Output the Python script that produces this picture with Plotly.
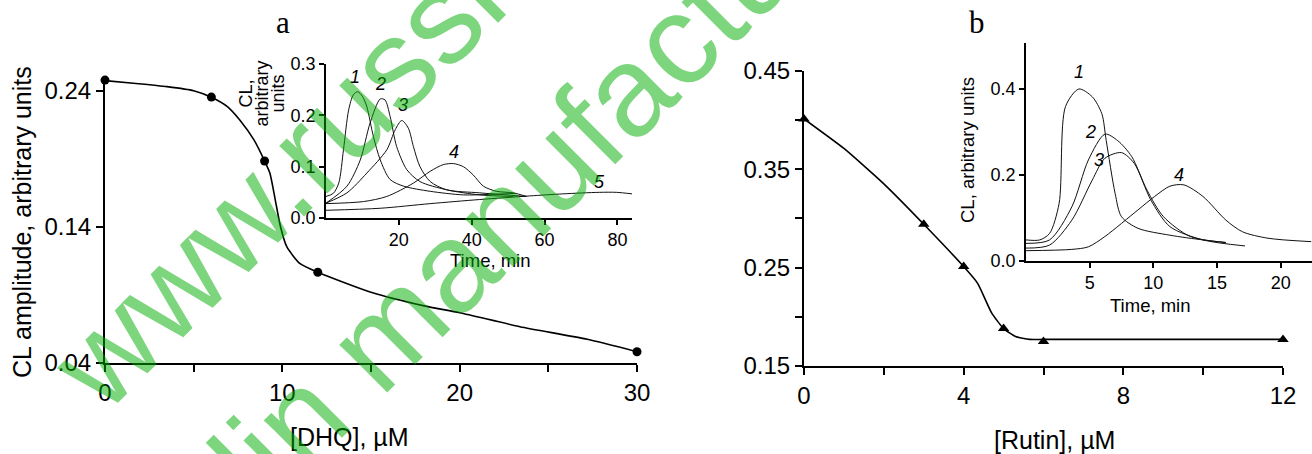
import plotly.graph_objects as go

W, H = 1312, 454

# ---------------- data: panel a (DHQ) ----------------
dhq_conc = [0, 6, 9, 12, 30]
dhq_amp = [0.248, 0.2355, 0.1885, 0.1067, 0.0483]
dhq_curve_x = [0, 1.6, 3.5, 5.0, 6.0, 6.9, 7.6, 8.4, 9.0, 9.3, 9.6, 9.9, 10.25, 11.0, 12.0, 15.0, 18.0, 20.0, 23.4, 27.2, 30.0]
dhq_curve_y = [0.2476, 0.2457, 0.2432, 0.2402, 0.2354, 0.2285, 0.2187, 0.204, 0.1885, 0.1795, 0.160, 0.140, 0.1255, 0.113, 0.1067, 0.092, 0.082, 0.077, 0.0667, 0.0574, 0.0483]

# inset a kinetics (time, min ; CL, arbitrary units)
ka1_t = [0, 2, 3.5, 4.8, 6.2, 7.5, 8.7, 10, 11.2, 13, 14.9, 17.6, 21.3, 28.6, 37.7, 45, 52]
ka1_v = [0.042, 0.048, 0.068, 0.133, 0.21, 0.24, 0.246, 0.237, 0.217, 0.159, 0.113, 0.075, 0.062, 0.052, 0.045, 0.046, 0.048]
ka2_t = [0, 5.75, 9.4, 12.1, 14.9, 16.2, 17.6, 19.4, 22.2, 25.8, 33.1, 42.2, 51.4]
ka2_v = [0.029, 0.062, 0.113, 0.185, 0.232, 0.23, 0.198, 0.139, 0.094, 0.071, 0.055, 0.045, 0.042]
ka3_t = [0, 5.75, 11.2, 16.7, 19.0, 20.8, 22.6, 24.0, 25.8, 28.6, 33.1, 42.2, 55]
ka3_v = [0.029, 0.049, 0.0875, 0.133, 0.172, 0.19, 0.175, 0.139, 0.10, 0.071, 0.055, 0.049, 0.042]
ka4_t = [0, 10.3, 16.7, 24, 28.6, 32.2, 35, 37.7, 40.4, 43.2, 46.8, 51.4, 55]
ka4_v = [0.028, 0.032, 0.042, 0.068, 0.091, 0.104, 0.106, 0.10, 0.084, 0.062, 0.052, 0.049, 0.042]
ka5_t = [0, 14.9, 28.6, 42.2, 55.9, 65, 75, 79.7, 84]
ka5_v = [0.015, 0.019, 0.028, 0.036, 0.043, 0.047, 0.05, 0.05, 0.047]

# ---------------- data: panel b (Rutin) ----------------
rutin_conc = [0, 3, 4, 5, 6, 12]
rutin_amp = [0.401, 0.294, 0.251, 0.188, 0.175, 0.177]
rutin_curve_x = [0, 1, 2, 3, 4, 4.35, 4.7, 5.0, 5.3, 5.65, 6, 12]
rutin_curve_y = [0.401, 0.371, 0.335, 0.294, 0.251, 0.234, 0.204, 0.188, 0.180, 0.177, 0.177, 0.177]

# inset b kinetics
kb1_t = [0, 1.08, 1.85, 2.6, 3.1, 4.15, 5.2, 5.95, 6.3, 7.0, 7.5, 8.8, 11.3, 13.9, 15.7]
kb1_v = [0.049, 0.049, 0.064, 0.134, 0.359, 0.40, 0.382, 0.343, 0.28, 0.157, 0.103, 0.076, 0.06, 0.049, 0.043]
kb2_t = [0, 1.85, 3.6, 4.9, 6.2, 7.2, 8.3, 9.5, 10.8, 12.9, 15.7]
kb2_v = [0.041, 0.049, 0.126, 0.235, 0.295, 0.28, 0.243, 0.165, 0.103, 0.057, 0.043]
kb3_t = [0, 1.85, 3.6, 5.2, 6.2, 7.5, 8.5, 9.8, 11.3, 13.9, 17.2]
kb3_v = [0.03, 0.037, 0.095, 0.188, 0.239, 0.252, 0.227, 0.142, 0.08, 0.049, 0.035]
kb4_t = [0, 3.6, 4.9, 6.2, 8.8, 10.1, 11.3, 12.4, 13.9, 15.7, 17.0, 19.0, 22.4]
kb4_v = [0.024, 0.027, 0.033, 0.057, 0.119, 0.15, 0.174, 0.177, 0.15, 0.095, 0.068, 0.053, 0.045]

# ---------------- tick labels ----------------
a_xticks = [0, 5, 10, 15, 20, 25, 30]
a_xtext = ["0", "", "10", "", "20", "", "30"]
a_yticks = [0.04, 0.14, 0.24]
a_ytext = ["0.04", "0.14", "0.24"]
ia_xticks = [20, 40, 60, 80]
ia_xtext = ["20", "40", "60", "80"]
ia_yticks = [0, 0.1, 0.2, 0.3]
ia_ytext = ["0.0", "0.1", "0.2", "0.3"]
b_xticks = [0, 2, 4, 6, 8, 10, 12]
b_xtext = ["0", "", "4", "", "8", "", "12"]
b_yticks = [0.15, 0.20, 0.25, 0.30, 0.35, 0.40, 0.45]
b_ytext = ["0.15", "", "0.25", "", "0.35", "", "0.45"]
ib_xticks = [5, 10, 15, 20]
ib_xtext = ["5", "10", "15", "20"]
ib_yticks = [0, 0.2, 0.4]
ib_ytext = ["0.0", "0.2", "0.4"]

SANS = "Arial, 'Liberation Sans', Helvetica, sans-serif"
SERIF = "'Times New Roman', 'Liberation Serif', serif"


def px(x):
    return x / W


def py(y):
    return 1 - y / H


fig = go.Figure()

# panel a main
fig.add_trace(go.Scatter(x=dhq_curve_x, y=dhq_curve_y, mode="lines",
                         line=dict(color="black", width=1.6, shape="spline", smoothing=0.6),
                         xaxis="x", yaxis="y", cliponaxis=False, hoverinfo="skip"))
fig.add_trace(go.Scatter(x=dhq_conc, y=dhq_amp, mode="markers",
                         marker=dict(color="black", size=9, symbol="circle"),
                         xaxis="x", yaxis="y", cliponaxis=False))

# inset a
for t, v in [(ka1_t, ka1_v), (ka2_t, ka2_v), (ka3_t, ka3_v), (ka4_t, ka4_v), (ka5_t, ka5_v)]:
    fig.add_trace(go.Scatter(x=t, y=v, mode="lines",
                             line=dict(color="#111111", width=1, shape="spline", smoothing=0.8),
                             xaxis="x2", yaxis="y2", cliponaxis=False))

# panel b main
fig.add_trace(go.Scatter(x=rutin_curve_x, y=rutin_curve_y, mode="lines",
                         line=dict(color="black", width=1.6, shape="spline", smoothing=0.5),
                         xaxis="x3", yaxis="y3", cliponaxis=False))
fig.add_trace(go.Scatter(x=rutin_conc, y=rutin_amp, mode="markers",
                         marker=dict(color="black", size=10, symbol="triangle-up"),
                         xaxis="x3", yaxis="y3", cliponaxis=False))

# inset b
for t, v in [(kb1_t, kb1_v), (kb2_t, kb2_v), (kb3_t, kb3_v), (kb4_t, kb4_v)]:
    fig.add_trace(go.Scatter(x=t, y=v, mode="lines",
                             line=dict(color="#111111", width=1, shape="spline", smoothing=0.8),
                             xaxis="x4", yaxis="y4", cliponaxis=False))


def axis(domain, rng, tickvals, ticktext, anchor, size, lw, tl):
    return dict(domain=domain, range=rng, tickvals=tickvals, ticktext=ticktext,
                anchor=anchor, showline=True, linecolor="black", linewidth=lw,
                ticks="outside", ticklen=tl, tickwidth=lw, tickcolor="black",
                showgrid=False, zeroline=False, fixedrange=True, automargin=False,
                tickfont=dict(family=SANS, size=size, color="black"))


fig.update_layout(
    template="none",
    width=W, height=H, margin=dict(l=0, r=0, t=0, b=0, pad=0, autoexpand=False),
    paper_bgcolor="white", plot_bgcolor="rgba(0,0,0,0)", showlegend=False,
    xaxis=axis([px(105), px(637)], [0, 30], a_xticks, a_xtext, "y", 24, 2, 7),
    yaxis=axis([py(363), py(77.4)], [0.04, 0.25], a_yticks, a_ytext, "x", 24, 2, 7),
    xaxis2=axis([px(326), px(632)], [0, 84], ia_xticks, ia_xtext, "y2", 18, 1.5, 5),
    yaxis2=axis([py(218), py(64)], [0, 0.3], ia_yticks, ia_ytext, "x2", 18, 1.5, 5),
    xaxis3=axis([px(804), px(1283)], [0, 12], b_xticks, b_xtext, "y3", 24, 2, 7),
    yaxis3=axis([py(366), py(70.7)], [0.15, 0.45], b_yticks, b_ytext, "x3", 24, 2, 7),
    xaxis4=axis([px(1026), 1.0], [0, 22.46], ib_xticks, ib_xtext, "y4", 18, 1.5, 5),
    yaxis4=axis([py(261), py(43)], [0, 0.507], ib_yticks, ib_ytext, "x4", 18, 1.5, 5),
)

ann = []


def text(x, y, s, size, angle=0, family=SANS, xref="paper", yref="paper"):
    ann.append(dict(x=x, y=y, xref=xref, yref=yref, text=s, showarrow=False,
                    textangle=angle, xanchor="center", yanchor="middle",
                    font=dict(family=family, size=size, color="black")))


# panel letters
text(px(282.7), py(22), "a", 31, family=SERIF)
text(px(976.7), py(22), "b", 31, family=SERIF)
# axis titles
text(px(22), py(222), "CL amplitude, arbitrary units", 25, angle=-90)
text(px(349), py(437), "[DHQ], µM", 25)
text(px(1054), py(440), "[Rutin], µM", 25)
text(px(490), py(260), "Time, min", 18.5)
text(px(1150), py(305), "Time, min", 18.5)
text(px(245.5), py(94), "CL,", 18, angle=-90)
text(px(261.5), py(94), "arbitrary", 18, angle=-90)
text(px(277.5), py(94), "units", 18, angle=-90)
text(px(967), py(150), "CL, arbitrary units", 18.5, angle=-90)
# curve numbers, inset a
for lbl, xx, yy in [("1", 8, 0.275), ("2", 15, 0.262), ("3", 21, 0.22), ("4", 35, 0.128), ("5", 75, 0.07)]:
    text(xx, yy, "<i>%s</i>" % lbl, 18, xref="x2", yref="y2")
# curve numbers, inset b
for lbl, xx, yy in [("1", 4.2, 0.44), ("2", 5.1, 0.30), ("3", 5.7, 0.235), ("4", 12.0, 0.20)]:
    text(xx, yy, "<i>%s</i>" % lbl, 18, xref="x4", yref="y4")

# watermark
for s, cx, cy in [("www.russian", 326, 131), ("lin manufacturer", 558, 158)]:
    ann.append(dict(x=px(cx), y=py(cy), xref="paper", yref="paper", text=s, showarrow=False,
                    textangle=-45, xanchor="center", yanchor="middle",
                    font=dict(family=SANS, size=128, color="rgba(0,173,0,0.51)")))

fig.update_layout(annotations=ann)

fig.write_html("out.html", config={"displayModeBar": False},
               post_script="document.body.style.margin='0';document.body.style.overflow='hidden';")
